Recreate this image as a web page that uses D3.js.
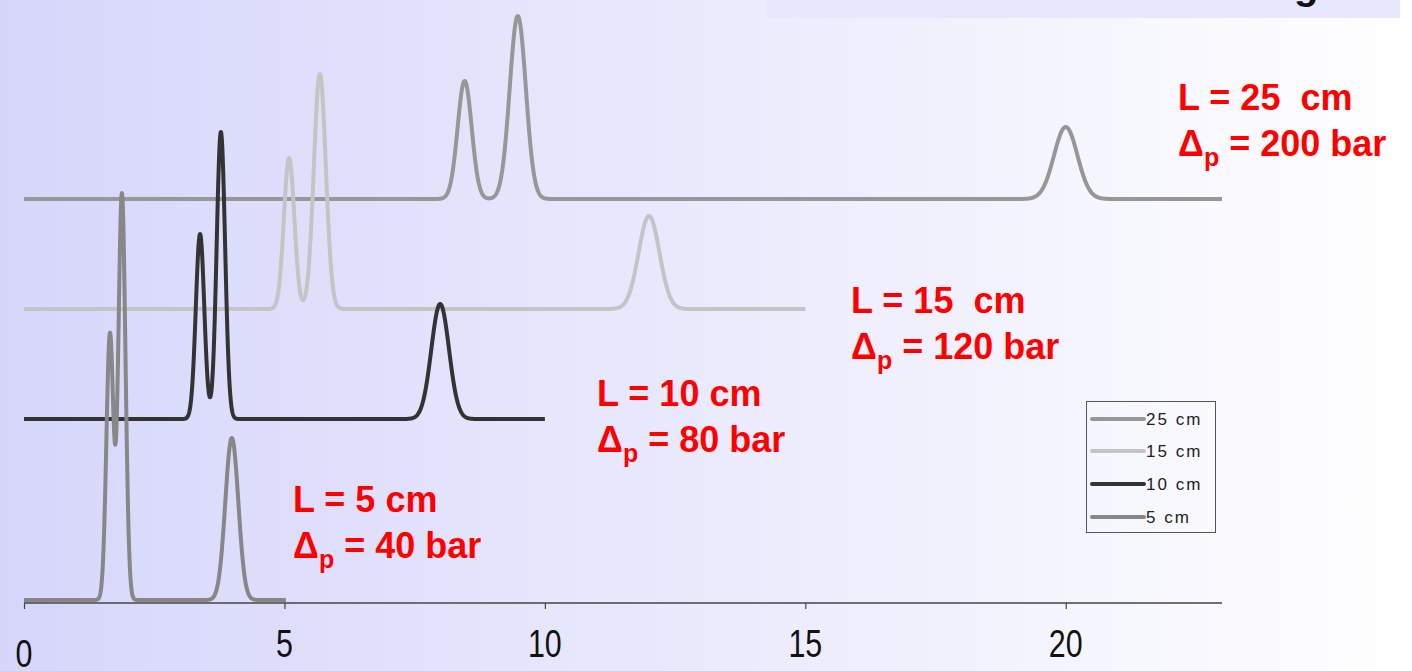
<!DOCTYPE html>
<html>
<head>
<meta charset="utf-8">
<script src="https://cdn.jsdelivr.net/npm/d3@7"></script>
<style>
  html, body { margin: 0; padding: 0; background: #fff; }
  svg { display: block; }
</style>
</head>
<body>
<svg id="chart" width="1412" height="671"></svg>
<script>
// ---------------- DATA ----------------
const traceNames   = ["25 cm", "15 cm", "10 cm", "5 cm"];
const traceColors  = ["#979797", "#c4c4c4", "#333333", "#878787"];
const traceEnds    = [23.0, 15.0, 10.0, 5.03];   // time where each trace stops
const traceOffsets = [401, 291, 181, 0];          // baseline of each trace (signal units)

// peak retention times, heights and widths (sigma) for each column length
const peakTimes25   = [8.46, 9.48, 20.0];
const peakHeights25 = [118, 183, 72];
const peakWidths25  = [0.135, 0.155, 0.225];

const peakTimes15   = [5.09, 5.68, 12.0];
const peakHeights15 = [151, 235, 93];
const peakWidths15  = [0.10, 0.115, 0.20];

const peakTimes10   = [3.38, 3.78, 7.99];
const peakHeights10 = [185, 287, 115];
const peakWidths10  = [0.081, 0.081, 0.17];

const peakTimes5    = [1.65, 1.88, 3.99];
const peakHeights5  = [266, 406, 162];
const peakWidths5   = [0.068, 0.068, 0.125];

const labelLine1 = ["L = 25  cm", "L = 15  cm", "L = 10 cm", "L = 5 cm"];
const labelPressure = ["200", "120", "80", "40"];

const xTicks = [0, 5, 10, 15, 20];

// ---------------- LAYOUT ----------------
const svg = d3.select("#chart");
const W = 1412, H = 671;

const defs = svg.append("defs");
const grad = defs.append("linearGradient").attr("id", "bg")
  .attr("x1", "0").attr("y1", "0").attr("x2", "1").attr("y2", "0");
grad.append("stop").attr("offset", "0").attr("stop-color", "#d6d6fb");
grad.append("stop").attr("offset", "0.55").attr("stop-color", "#ececfd");
grad.append("stop").attr("offset", "1").attr("stop-color", "#ffffff");
svg.append("rect").attr("width", W).attr("height", H).attr("fill", "url(#bg)");

// top-right title strip (cut off)
svg.append("rect").attr("x", 767).attr("y", 0).attr("width", 633).attr("height", 18)
  .attr("fill", "#e7e7fd");
svg.append("text").attr("x", 1294).attr("y", -1)
  .attr("font-family", "Liberation Sans, Arial, sans-serif")
  .attr("font-weight", "bold").attr("font-size", 40).attr("fill", "#111")
  .text("g");

const x = d3.scaleLinear().domain([0, 23.0]).range([24, 1222]);
const y = d3.scaleLinear().domain([0, 600]).range([600, 0]);

// axis
const axisG = svg.append("g").attr("transform", "translate(0,603)");
const axis = d3.axisBottom(x).tickValues(xTicks).tickSize(6).tickFormat("");
axisG.call(axis);
axisG.select(".domain").attr("stroke", "#444").attr("stroke-width", 1.6)
  .attr("d", `M${x(0)},0H${x(23.0)}`);
axisG.selectAll(".tick line").attr("stroke", "#444").attr("stroke-width", 1.2);

// tick labels
svg.append("g").selectAll("text").data(xTicks).join("text")
  .attr("transform", d => `translate(${x(d)},${d === 0 ? 667 : 657}) scale(0.8,1)`)
  .attr("text-anchor", "middle")
  .attr("font-family", "Liberation Sans, Arial, sans-serif")
  .attr("font-size", 38).attr("fill", "#111")
  .text(d => d);

// traces
const peakSets = [
  [peakTimes25, peakHeights25, peakWidths25],
  [peakTimes15, peakHeights15, peakWidths15],
  [peakTimes10, peakHeights10, peakWidths10],
  [peakTimes5,  peakHeights5,  peakWidths5]
];

function signal(t, set) {
  const [ts, hs, ws] = set;
  let s = 0;
  for (let i = 0; i < ts.length; i++) {
    const z = (t - ts[i]) / ws[i];
    s += hs[i] * Math.exp(-0.5 * z * z);
  }
  return s;
}

const line = d3.line().x(d => x(d[0])).y(d => y(d[1])).curve(d3.curveLinear);

traceNames.forEach((name, i) => {
  const pts = [];
  const step = 0.004;
  for (let t = 0; t <= traceEnds[i] + 1e-9; t += step) {
    pts.push([t, traceOffsets[i] + signal(t, peakSets[i])]);
  }
  svg.append("path").datum(pts)
    .attr("d", line)
    .attr("fill", "none")
    .attr("stroke", traceColors[i])
    .attr("stroke-width", 4)
    .attr("stroke-linejoin", "round")
    .attr("stroke-linecap", "butt");
});

// red labels
const labelPos = [
  { x: 1178, y1: 110, y2: 156 },
  { x: 851,  y1: 313, y2: 359 },
  { x: 597,  y1: 406, y2: 452 },
  { x: 293,  y1: 512, y2: 558 }
];
const lbl = svg.append("g")
  .attr("font-family", "Liberation Sans, Arial, sans-serif")
  .attr("font-weight", "bold").attr("fill", "#ff0000");
labelPos.forEach((p, i) => {
  lbl.append("text").attr("x", p.x).attr("y", p.y1).attr("font-size", 36)
    .attr("xml:space", "preserve").style("white-space", "pre")
    .text(labelLine1[i]);
  const t = lbl.append("text").attr("x", p.x).attr("y", p.y2).attr("font-size", 36);
  t.append("tspan").text("Δ");
  t.append("tspan").attr("font-size", 25).attr("dy", 10).text("p");
  t.append("tspan").attr("dy", -10).text(" = " + labelPressure[i] + " bar");
});

// legend
const leg = svg.append("g");
leg.append("rect").attr("x", 1086.5).attr("y", 401.5).attr("width", 129).attr("height", 131)
  .attr("fill", "none").attr("stroke", "#555").attr("stroke-width", 1);
const legY = [419, 451, 484, 517];
traceNames.forEach((name, i) => {
  leg.append("line").attr("x1", 1092).attr("x2", 1144)
    .attr("y1", legY[i]).attr("y2", legY[i])
    .attr("stroke", traceColors[i]).attr("stroke-width", 4)
    .attr("stroke-linecap", "round");
  leg.append("text").attr("x", 1146).attr("y", legY[i] + 6)
    .attr("font-family", "Liberation Sans, Arial, sans-serif")
    .attr("font-size", 17).attr("letter-spacing", 2).attr("fill", "#222")
    .text(name);
});
</script>
</body>
</html>
